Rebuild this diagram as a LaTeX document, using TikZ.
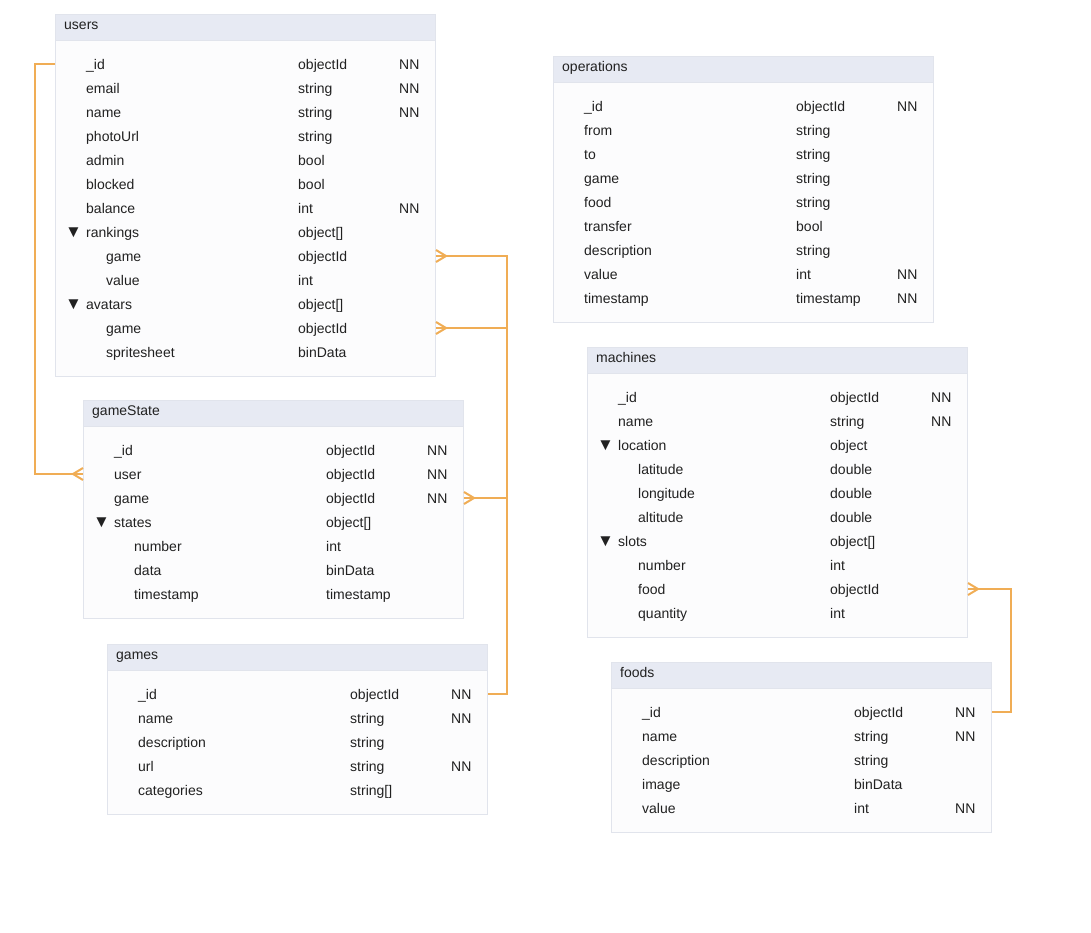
\documentclass[tikz,border=0pt]{standalone}
\usepackage{fontspec}
\setmainfont{Liberation Sans}
\usetikzlibrary{calc}
\definecolor{HeadClr}{rgb}{0.906,0.918,0.953}
\definecolor{BodyClr}{rgb}{0.988,0.988,0.992}
\definecolor{FrameClr}{rgb}{0.882,0.894,0.925}
\definecolor{LinkClr}{rgb}{0.941,0.678,0.333}
\definecolor{TextClr}{rgb}{0.13,0.13,0.13}

% #1 name, #2 title, #3 x, #4 y, #5 number of rows, #6 rows (level/field/type/nn)
\newcommand{\DbTable}[6]{%
  \node[tblbody, minimum height={50+24*#5}] (#1) at (#3,#4) {};
  \node[tblhead] (#1-head) at (#3,#4) {};
  \node[fld] (#1-title) at (#3+9,#4+12) {#2};
  \foreach \lv/\fld/\typ/\nn [count=\i] in {#6}{%
    \pgfmathsetmacro\rowy{#4+26+24*\i}
    \pgfmathsetmacro\rowx{#3+31+20*(\lv==2)}
    \node[fld, row] (#1-\i) at (\rowx,\rowy) {\fld};
    \node[fld, row] (#1-\i-type) at (#3+243,\rowy) {\typ};
    \node[fld, row] (#1-\i-nn) at (#3+344,\rowy) {\nn};
    \ifnum\lv=1 \node[fld, row, font=\fontsize{17}{19}\selectfont]
      (#1-\i-fold) at (#3+10,\rowy) {▼};\fi
  }%
}

\begin{document}
\begin{tikzpicture}[x=1pt,y=-1pt,
  tblbody/.style={draw=FrameClr, fill=BodyClr, line width=1, anchor=north west,
    minimum width=380, inner sep=0},
  tblhead/.style={draw=FrameClr, fill=HeadClr, line width=1, anchor=north west,
    minimum width=380, minimum height=26, inner sep=0},
  fld/.style={anchor=west, inner sep=0, text height=10, text depth=3,
    text=TextClr, font=\fontsize{14}{16}\selectfont},
  row/.style={text height=13, text depth=2},
  link/.style={draw=LinkClr, line width=2, line join=miter}]
\useasboundingbox (0,0) rectangle (1091,932);

\DbTable{users}{users}{55}{14}{13}{0/\_id/objectId/NN, 0/email/string/NN,
  0/name/string/NN, 0/photoUrl/string/{}, 0/admin/bool/{}, 0/blocked/bool/{},
  0/balance/int/NN, 1/rankings/object[]/{}, 2/game/objectId/{}, 2/value/int/{},
  1/avatars/object[]/{}, 2/game/objectId/{}, 2/spritesheet/binData/{}}

\DbTable{operations}{operations}{553}{56}{9}{0/\_id/objectId/NN, 0/from/string/{},
  0/to/string/{}, 0/game/string/{}, 0/food/string/{}, 0/transfer/bool/{},
  0/description/string/{}, 0/value/int/NN, 0/timestamp/timestamp/NN}

\DbTable{machines}{machines}{587}{347}{10}{0/\_id/objectId/NN, 0/name/string/NN,
  1/location/object/{}, 2/latitude/double/{}, 2/longitude/double/{},
  2/altitude/double/{}, 1/slots/object[]/{}, 2/number/int/{},
  2/food/objectId/{}, 2/quantity/int/{}}

\DbTable{gameState}{gameState}{83}{400}{7}{0/\_id/objectId/NN, 0/user/objectId/NN,
  0/game/objectId/NN, 1/states/object[]/{}, 2/number/int/{}, 2/data/binData/{},
  2/timestamp/timestamp/{}}

\DbTable{games}{games}{107}{644}{5}{0/\_id/objectId/NN, 0/name/string/NN,
  0/description/string/{}, 0/url/string/NN, 0/categories/string[]/{}}

\DbTable{foods}{foods}{611}{662}{5}{0/\_id/objectId/NN, 0/name/string/NN,
  0/description/string/{}, 0/image/binData/{}, 0/value/int/NN}

% bus lines
\coordinate (lbus) at (35,0);
\coordinate (hub) at (507,0);
\coordinate (rbus) at (1011,0);

% users._id -> gameState.user
\draw[link] (users.west |- users-1) -- (lbus |- users-1) -- (lbus |- gameState-2)
  -- (gameState.west |- gameState-2);
\draw[link] (gameState.west |- gameState-2) ++(0,-6) -- ++(-10,6) -- ++(10,6);

% games._id -> users / gameState
\draw[link] (users.east |- users-9) -- (hub |- users-9) -- (hub |- games-1)
  -- (games.east |- games-1);
\draw[link] (users.east |- users-12) -- (hub |- users-12);
\draw[link] (gameState.east |- gameState-3) -- (hub |- gameState-3);
\draw[link] (users.east |- users-9) ++(0,-6) -- ++(10,6) -- ++(-10,6);
\draw[link] (users.east |- users-12) ++(0,-6) -- ++(10,6) -- ++(-10,6);
\draw[link] (gameState.east |- gameState-3) ++(0,-6) -- ++(10,6) -- ++(-10,6);

% foods._id -> machines.slots.food
\draw[link] (machines.east |- machines-9) -- (rbus |- machines-9) -- (rbus |- foods-1)
  -- (foods.east |- foods-1);
\draw[link] (machines.east |- machines-9) ++(0,-6) -- ++(10,6) -- ++(-10,6);

\end{tikzpicture}
\end{document}
